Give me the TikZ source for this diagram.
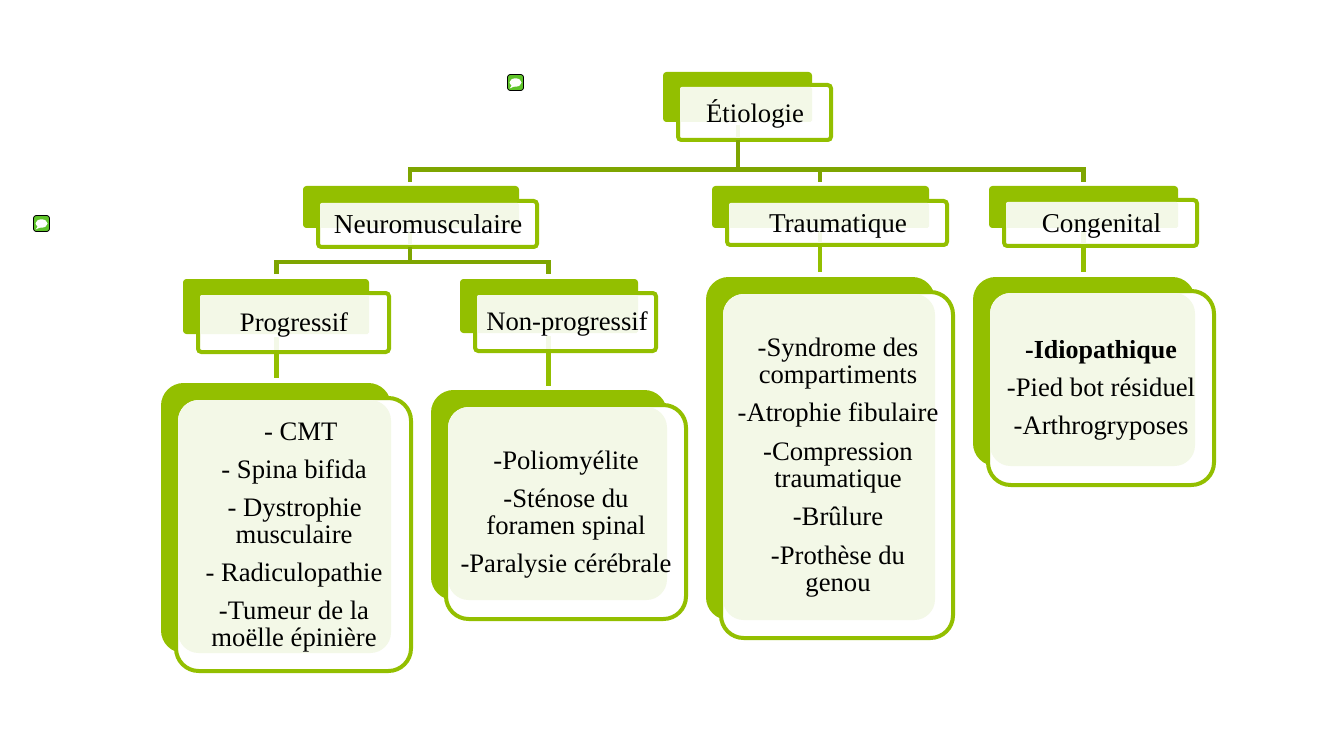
\documentclass[tikz,border=0pt]{standalone}
\usepackage{fontspec}
\setmainfont{Liberation Serif}
\usetikzlibrary{fit}
\definecolor{backgreen}{HTML}{93BF00}
\definecolor{palegreen}{HTML}{F3F8E7}
\definecolor{darkline}{HTML}{7EA500}
\definecolor{iconfill}{HTML}{5FC42A}
\tikzset{
  x=0.75pt,y=-0.75pt,
  backbox/.style={fill=backgreen,draw=none,inner sep=0pt,outer sep=0pt},
  frontbox/.style={fill=white,draw=backgreen,line width=3pt,inner sep=0pt,outer sep=0pt},
  label/.style={text=black,align=center,inner sep=0pt,font=\fontsize{20}{20.25}\selectfont},
  oneline/.style={label,text height=14pt,text depth=4pt},
  darkconn/.style={draw=darkline,line width=3.6pt},
  lightconn/.style={draw=backgreen,line width=3.6pt},
  strip/.style={draw=palegreen,line width=3.6pt},
  iconbox/.style={fill=iconfill,draw=black,line width=0.6pt,rounded corners=2pt,inner sep=0pt,outer sep=0pt},
}
% name, back NW, back SE, front NW, front SE, radius, inner radius
\newcommand\etbox[7]{%
  \coordinate (#1a) at (#2);
  \coordinate (#1b) at (#3);
  \coordinate (#1c) at (#4);
  \coordinate (#1d) at (#5);
  \node[backbox,rounded corners=#6,fit=(#1a)(#1b)] (#1back) {};
  \node[frontbox,rounded corners=#6,fit=(#1c)(#1d)] (#1) {};
  \fill[palegreen,rounded corners=#7] ([shift={(2,2)}]#1c) rectangle (#1b);
}
\newcommand\eticon[2]{%
  \coordinate (#1c) at (#2);
  \node[iconbox,minimum width=12pt,minimum height=12pt] (#1) at (#1c) {};
  \fill[white] (#1c) ellipse [x radius=6,y radius=4.2];
  \fill[white] ([shift={(-3,2)}]#1c) -- ([shift={(-6,6)}]#1c) -- ([shift={(1,3)}]#1c) -- cycle;
}
\newcommand\etstrip[2]{%
  \draw[strip] ([yshift=-2.5pt]#1 |- #2back.south) -- ([yshift=1.5pt]#1 |- #2.south);
}
\begin{document}
\begin{tikzpicture}
\useasboundingbox (0,0) rectangle (1334,734);
% junction coordinates
\coordinate (rootbus) at (738,169.5);
\coordinate (busl) at (410,169.5);
\coordinate (busm) at (820,169.5);
\coordinate (busr) at (1083.5,169.5);
\coordinate (dropl) at (410,182);
\coordinate (dropm) at (820,182);
\coordinate (dropr) at (1083.5,182);
\coordinate (nmbus) at (410,262);
\coordinate (nml) at (276.5,262);
\coordinate (nmr) at (548.5,262);
\coordinate (nmld) at (276.5,274);
\coordinate (nmrd) at (548.5,274);
\coordinate (progend) at (276.5,378);
\coordinate (nonend) at (548.5,386);
\coordinate (trend) at (820,272);
\coordinate (conend) at (1083.5,272);

\etbox{etio}{663,72}{812,122}{678,85}{831,140}{2.5pt}{1.2pt}
\etbox{neuro}{303,186}{519,228}{318,201}{537,247}{2.5pt}{1.2pt}
\etbox{trauma}{712,186}{929,228}{727,201}{947,245}{2.5pt}{1.2pt}
\etbox{cong}{989,186}{1178,228}{1004,200}{1197,246}{2.5pt}{1.2pt}
\etbox{prog}{183,279}{369,334}{198,293}{389,352}{2.5pt}{1.2pt}
\etbox{nonprog}{460,279}{638,333}{475,293}{656,351}{2.5pt}{1.2pt}
\etbox{cmt}{161,383}{391,653}{176,398}{411,671}{17pt}{15.5pt}
\etbox{polio}{431,390}{667,600}{446,405}{686,619}{17pt}{15.5pt}
\etbox{synd}{706,277}{935,620}{721,292}{953,638}{17pt}{15.5pt}
\etbox{idio}{973,277}{1195,466}{988,291}{1214,485}{17pt}{15.5pt}

% pale traces of the connectors inside the boxes
\etstrip{rootbus}{etio}
\etstrip{nmbus}{neuro}
\etstrip{trend}{trauma}
\etstrip{conend}{cong}
\etstrip{progend}{prog}
\etstrip{nonend}{nonprog}

% connectors
\draw[darkconn] (etio.south -| rootbus) -- (rootbus);
\draw[darkconn] (dropl) -- (busl) -- (busr) -- (dropr);
\draw[darkconn] (busm) -- (dropm);
\draw[darkconn] (neuro.south -| nmbus) -- (nmbus);
\draw[darkconn] (nmld) -- (nml) -- (nmr) -- (nmrd);
\draw[lightconn] (prog.south -| progend) -- (progend);
\draw[lightconn] (nonprog.south -| nonend) -- (nonend);
\draw[lightconn] (trauma.south -| trend) -- (trend);
\draw[lightconn] (cong.south -| conend) -- (conend);

% labels
\node[oneline] (etiot) at (755,116.3) {Étiologie};
\node[oneline,font=\fontsize{20.5}{20.5}\selectfont] (neurot) at (428,227) {Neuromusculaire};
\node[oneline,font=\fontsize{20.4}{20.5}\selectfont] (traumat) at (838,226) {Traumatique};
\node[oneline,font=\fontsize{20.4}{20.5}\selectfont] (congt) at (1101.5,226) {Congenital};
\node[oneline] (progt) at (294,325.3) {Progressif};
\node[oneline] (nonprogt) at (567,324) {Non-progressif};
\node[label] (cmtt) at (294,537.2) {\hspace*{10pt}- CMT\\[8.3pt]- Spina bifida\\[8.3pt]\hspace*{1pt}- Dystrophie\\musculaire\\[8.3pt]- Radiculopathie\\[8.3pt]-Tumeur de la\\moëlle épinière};
\node[label] (poliot) at (566,515) {-Poliomyélite\\[8.3pt]-Sténose du\\foramen spinal\\[8.3pt]-Paralysie cérébrale};
\node[label] (syndt) at (838,467.2) {-Syndrome des\\compartiments\\[8.6pt]-Atrophie fibulaire\\[8.6pt]-Compression\\traumatique\\[8.6pt]-Brûlure\\[8.6pt]-Prothèse du\\genou};
\node[label] (idiot) at (1101,390.2) {{\fontsize{19.5}{20.25}\selectfont\textbf{-Idiopathique}}\\[8.3pt]-Pied bot résiduel\\[8.3pt]-Arthrogryposes};

% comment icons
\eticon{iconone}{515.5,82.5}
\eticon{icontwo}{41.5,223.5}
\end{tikzpicture}
\end{document}
